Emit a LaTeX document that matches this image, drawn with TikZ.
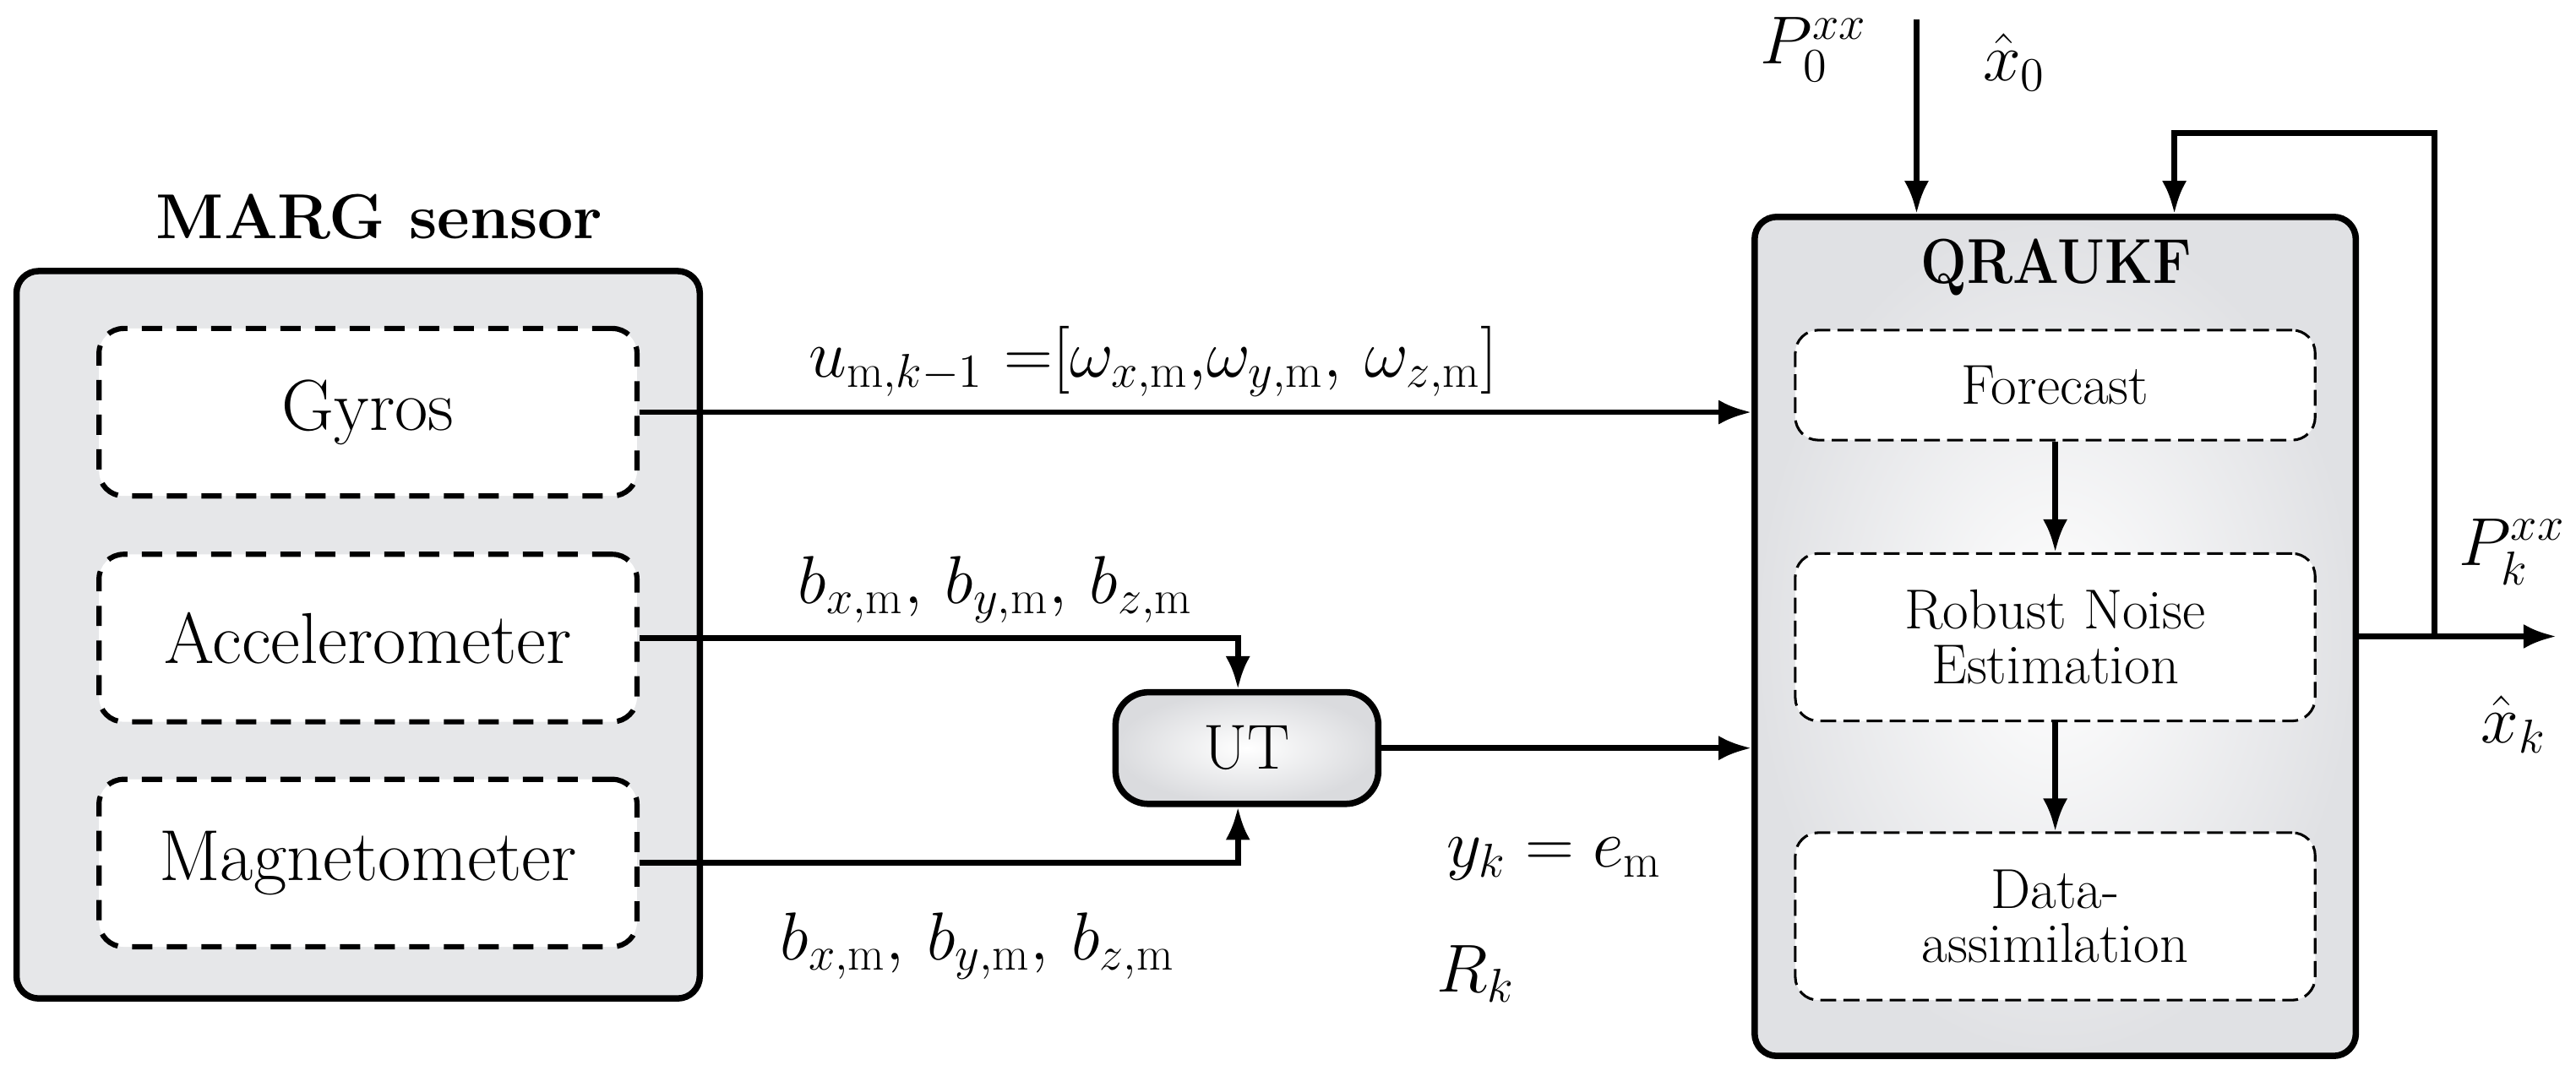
\RequirePackage{fix-cm}
\documentclass[tikz,border=0pt]{standalone}
\usepackage{fontspec}
\usepackage{amsmath}
\usetikzlibrary{arrows.meta}
\definecolor{boxgray}{RGB}{230,231,233}
\definecolor{edgegray}{RGB}{224,225,228}
\definecolor{utedge}{RGB}{218,219,222}
\begin{document}
\begin{tikzpicture}[x=0.02cm,y=-0.02cm,
  outerbox/.style={draw=black, line width=2.2pt, rounded corners=0.27cm},
  sensbox/.style={draw=black, fill=white, line width=1.8pt, dash pattern=on 7pt off 5pt,
    rounded corners=0.3cm, minimum width=6.55cm, minimum height=2.04cm,
    font=\fontsize{25}{30}\selectfont},
  stagebox/.style={draw=black, fill=white, line width=0.9pt, dash pattern=on 5.5pt off 2.5pt,
    rounded corners=0.28cm, minimum width=6.33cm, align=center,
    font=\fontsize{19.5}{19}\selectfont},
  conn/.style={line width=2pt, -{Latex[length=0.4cm,width=0.3cm]}},
  mlabel/.style={font=\fontsize{23.5}{27}\selectfont, inner sep=0pt},
  ttl/.style={font=\bfseries\fontsize{22}{26}\selectfont}
]
\useasboundingbox (0,0) rectangle (1568,654.7);

% MARG sensor
\node[outerbox, fill=boxgray, minimum width=8.32cm, minimum height=8.86cm] (marg) at (218,386.5) {};
\node[ttl] (margt) at (231,132) {MARG sensor};
\node[sensbox] (gyro) at (224,251) {Gyros};
\node[sensbox] (acc) at (224,388.5) {Accelerometer};
\node[sensbox] (mag) at (224,525.5) {Magnetometer};

% UT
\node[draw=black, line width=2.2pt, rounded corners=0.4cm, shading=radial,
  inner color=white, outer color=utedge, minimum width=3.2cm, minimum height=1.36cm,
  font=\fontsize{22}{26}\selectfont] (ut) at (759,455.5) {UT};

% QRAUKF
\node[outerbox, shading=radial, inner color=white, outer color=edgegray,
  minimum width=7.32cm, minimum height=10.22cm] (q) at (1251,387.5) {};
\node[ttl] (qt) at (1251.5,163) {\scalebox{0.86}[1]{QRAUKF}};
\node[stagebox, minimum height=1.34cm] (fc) at (1251,234.5) {Forecast};
\node[stagebox, minimum height=2.04cm] (rn) at (1251,388) {Robust Noise\\Estimation};
\node[stagebox, minimum height=2.04cm] (da) at (1251,558) {Data-\\assimilation};

% connectors
\draw[conn] (gyro.east) -- (gyro.east -| q.west);
\draw[conn] (acc.east) -| ([xshift=-0.11cm]ut.north);
\draw[conn] (mag.east) -| ([xshift=-0.11cm]ut.south);
\draw[conn] (ut.east) -- (ut.east -| q.west);
\draw[conn] (fc.south) -- (rn.north);
\draw[conn] (rn.south) -- (da.north);

\coordinate (tin) at (1166.6,12);
\draw[conn] (tin) -- (tin |- q.north);
\coordinate (oend) at (1556,387.5);
\draw[conn] (q.east) -- (oend);
\coordinate (fb) at (1481.7,387.5);
\coordinate (fbtop) at (1323.5,81);
\draw[conn] (fb) |- (fbtop) -- (fbtop |- q.north);

% labels
\node[mlabel] (lu) at (702,220) {$u_{\mathrm{m},k-1}\ {=}[\omega_{x,\mathrm{m}}{,}\omega_{y,\mathrm{m}},\,\omega_{z,\mathrm{m}}]$};
\node[mlabel] (lb1) at (606,359) {$b_{x,\mathrm{m}},\,b_{y,\mathrm{m}},\,b_{z,\mathrm{m}}$};
\node[mlabel] (lb2) at (595,576) {$b_{x,\mathrm{m}},\,b_{y,\mathrm{m}},\,b_{z,\mathrm{m}}$};
\node[mlabel] (ly) at (946,523) {$y_k = e_{\mathrm{m}}$};
\node[mlabel] (lr) at (898,593) {$R_k$};
\node[mlabel] (lp0) at (1104,30) {$P_0^{xx}$};
\node[mlabel] (lx0) at (1226,38) {$\hat{x}_0$};
\node[mlabel] (lpk) at (1529,336) {$P_k^{xx}$};
\node[mlabel] (lxk) at (1530,441) {$\hat{x}_k$};
\end{tikzpicture}
\end{document}
